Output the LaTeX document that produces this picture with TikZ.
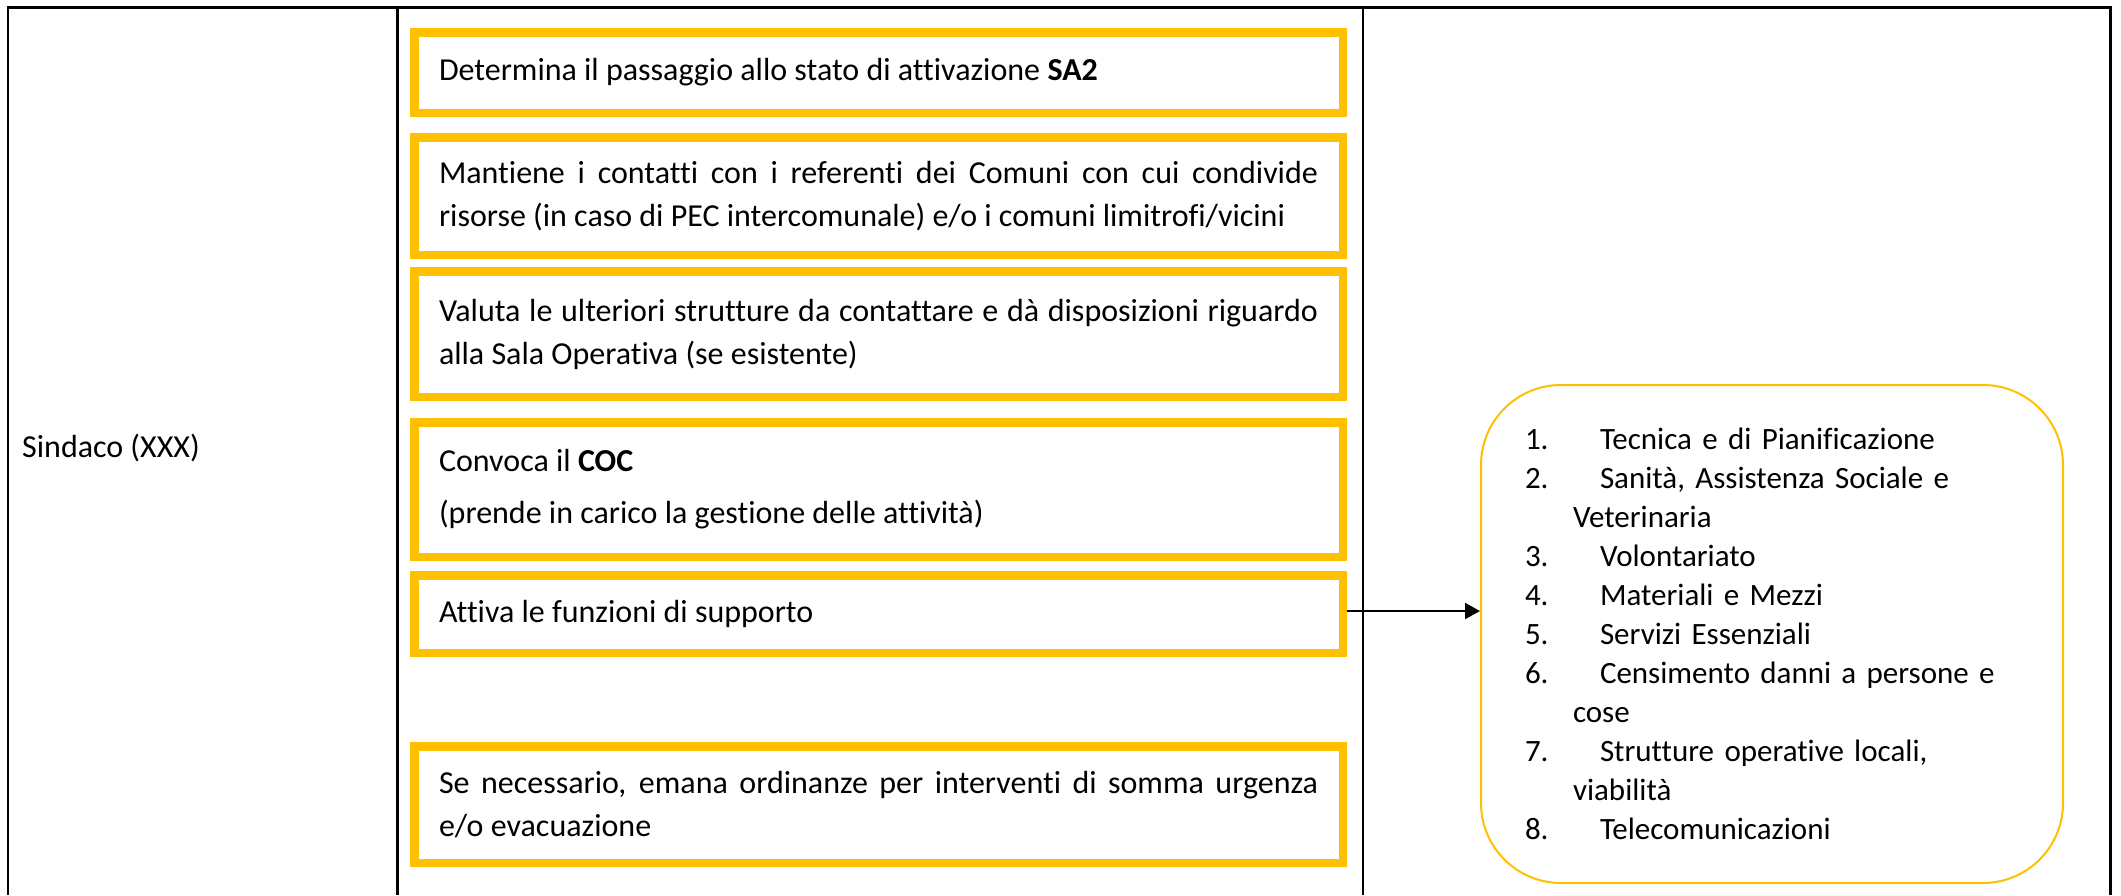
\documentclass[tikz,border=0pt]{standalone}
\usepackage{fontspec}
\setmainfont{Carlito}[Ligatures=NoCommon]
\usetikzlibrary{arrows.meta}
\definecolor{gold}{HTML}{FFC000}
\begin{document}
\begin{tikzpicture}[x=1pt,y=-1pt,
  gridline/.style={line width=2.5pt, black},
  actbox/.style={draw=gold, line width=8.5pt, outer sep=4.25pt, rectangle,
    minimum width=928.5pt, text width=879pt, align=justify, anchor=north west,
    inner xsep=0pt, inner ysep=0pt, font=\fontsize{32}{43}\selectfont},
  listbox/.style={draw=gold, line width=2pt, outer sep=1pt, rectangle,
    rounded corners=80pt, minimum width=582pt, minimum height=498pt,
    text width=494pt, align=left, inner sep=0pt, font=\fontsize{31}{39}\selectfont},
  lbl/.style={font=\fontsize{32}{43}\selectfont, inner sep=0pt, anchor=base west},
  link/.style={line width=2pt, -{Triangle[length=15pt,width=16pt]}}]
\useasboundingbox (0,0) rectangle (2121,895);
% table lines
\draw[gridline] (8,7.5) -- (2110.5,7.5);
\draw[gridline] (8,6.25) -- (8,895);
\draw[gridline] (397.5,7.5) -- (397.5,895);
\draw[gridline] (1363,7.5) -- (1363,895);
\draw[gridline] (2110.5,6.25) -- (2110.5,895);
% left column
\node[lbl] (sindaco) at (22,457) {Sindaco (XXX)};
% action boxes
\node[actbox, minimum height=80.5pt] (b1) at (410,28) {Determina il passaggio allo stato di attivazione \textbf{SA2}};
\node[actbox, minimum height=117.5pt] (b2) at (410,133) {Mantiene i contatti con i referenti dei Comuni con cui condivide\linebreak risorse (in caso di PEC intercomunale) e/o i comuni limitrofi/vicini};
\node[actbox, minimum height=125.5pt] (b3) at (410,267) {Valuta le ulteriori strutture da contattare e dà disposizioni riguardo\linebreak alla Sala Operativa (se esistente)};
\node[actbox, minimum height=134.5pt] (b4) at (410,418) {Convoca il \textbf{COC}\\[9pt](prende in carico la gestione delle attività)};
\node[actbox, minimum height=77.5pt] (b5) at (410,571) {Attiva le funzioni di supporto};
\node[actbox, minimum height=116.5pt] (b6) at (410,742) {Se necessario, emana ordinanze per interventi di somma urgenza\linebreak e/o evacuazione};
% support functions
\node[listbox] (funz) at (1772,634) {%
\makebox[75pt][l]{1.}Tecnica e di Pianificazione\\
\makebox[75pt][l]{2.}Sanità, Assistenza Sociale e\\
\hspace*{48pt}Veterinaria\\
\makebox[75pt][l]{3.}Volontariato\\
\makebox[75pt][l]{4.}Materiali e Mezzi\\
\makebox[75pt][l]{5.}Servizi Essenziali\\
\makebox[75pt][l]{6.}Censimento danni a persone e\\
\hspace*{48pt}cose\\
\makebox[75pt][l]{7.}Strutture operative locali,\\
\hspace*{48pt}viabilità\\
\makebox[75pt][l]{8.}Telecomunicazioni};
\coordinate (armstart) at ([yshift=3pt]b5.east);
\draw[link] (armstart) -- (armstart -| funz.west);
\end{tikzpicture}
\end{document}
